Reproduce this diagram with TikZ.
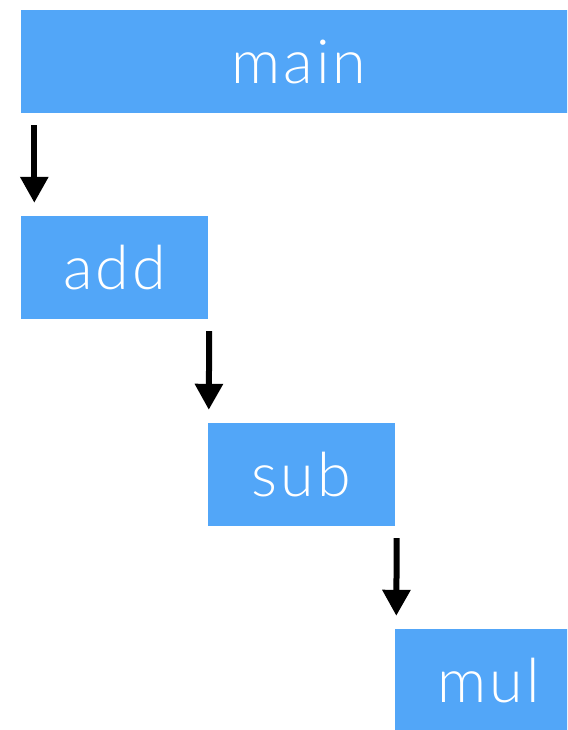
\documentclass[tikz,border=0pt]{standalone}
\usepackage{fontspec}
\setmainfont{Lato Light}[LetterSpace=5]
\usetikzlibrary{arrows.meta}
\definecolor{callblue}{RGB}{82,166,248}
\tikzset{
  call/.style={fill=callblue, text=white, minimum width=187pt, minimum height=103pt, inner sep=0pt, font=\fontsize{61}{68}\selectfont},
  arr/.style={line width=6pt, -{Triangle[width=27pt,length=26pt]}}
}
\begin{document}
\begin{tikzpicture}
            \useasboundingbox (0,0) rectangle (567pt,-730pt);
            \clip (0,0) rectangle (567pt,-730pt);
            \node[call, minimum width=556pt] (main) at (299pt,-61.5pt) {main};
            \node[call] (add) at (114.5pt,-267.5pt) {add};
            \node[call] (sub) at (301.5pt,-474.5pt) {sub};
            \node[call] (mul) at (488.5pt,-680.5pt) {mul};

            \draw[arr] ([xshift=13.5pt,yshift=-12pt]main.south west) -- ([xshift=13.5pt,yshift=13pt]add.north west);
            \draw[arr] ([xshift=1pt,yshift=-12pt]add.south east) -- ([xshift=1pt,yshift=13pt]sub.north west);
            \draw[arr] ([xshift=1.5pt,yshift=-12pt]sub.south east) -- ([xshift=1.5pt,yshift=13pt]mul.north west);
        \end{tikzpicture}
\end{document}
